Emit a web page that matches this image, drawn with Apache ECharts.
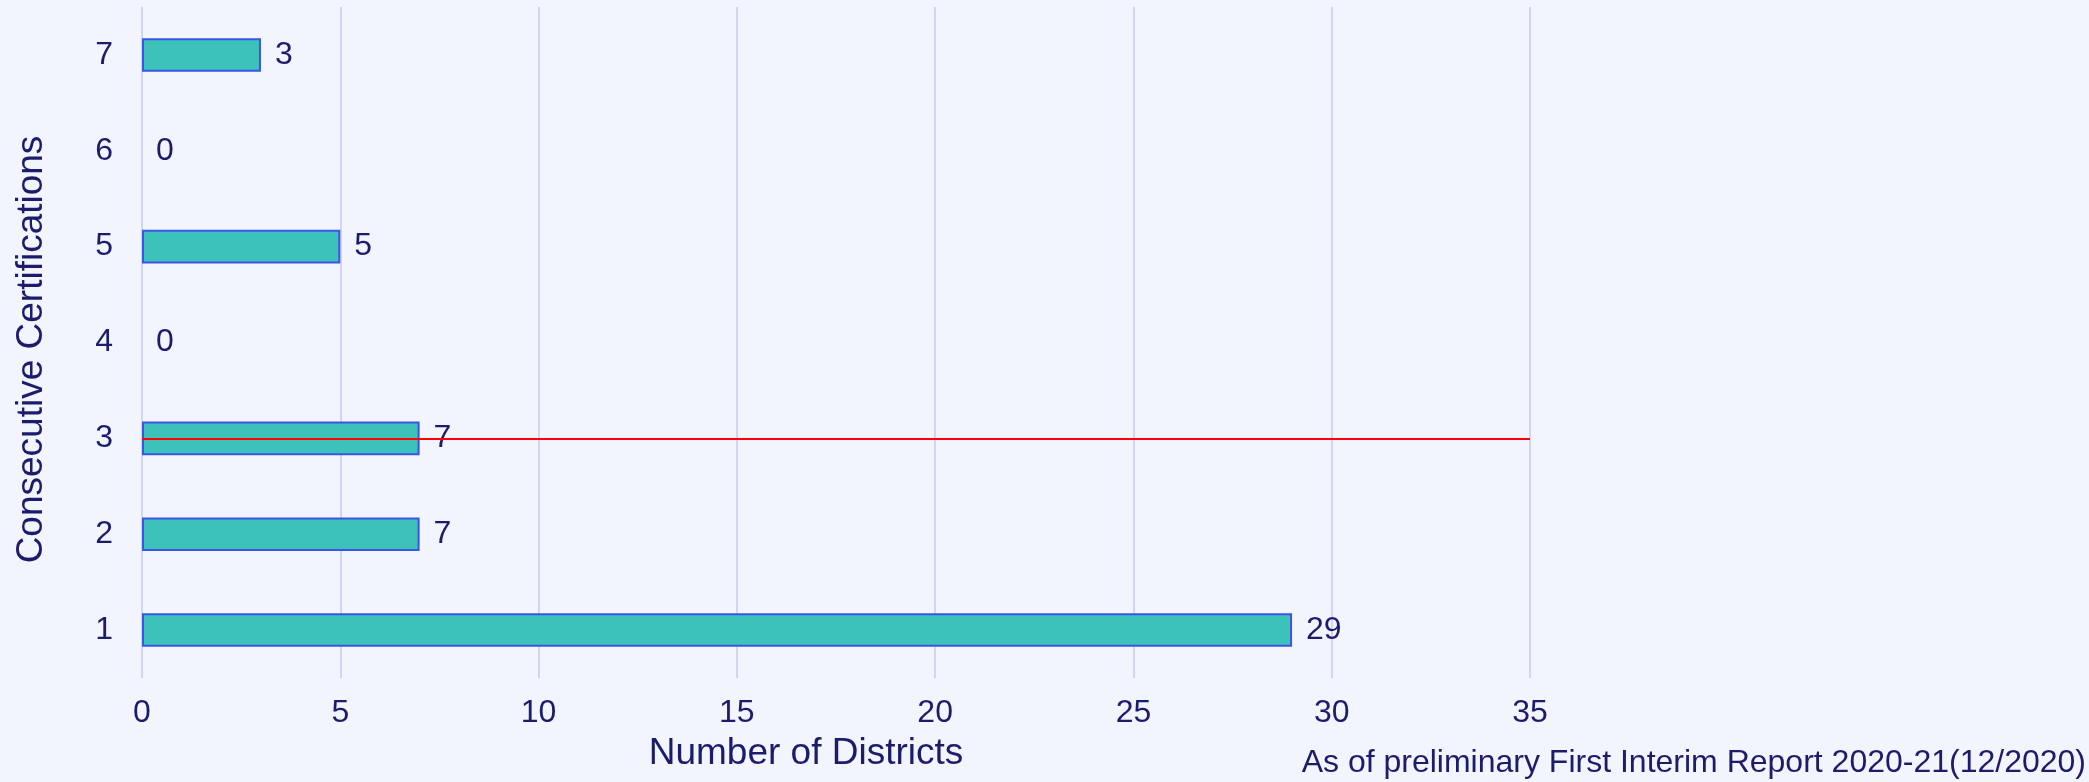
<!DOCTYPE html>
<html>
<head>
<meta charset="utf-8">
<script src="https://cdn.jsdelivr.net/npm/echarts@6/dist/echarts.min.js"></script>
<style>
  html, body { margin: 0; padding: 0; background: #f2f4fe; }
  #chart { width: 2089px; height: 782px; }
</style>
</head>
<body>
<div id="chart"></div>
<script>
// data
const certifications = ["1", "2", "3", "4", "5", "6", "7"];
const districts = [29, 7, 7, 0, 5, 0, 3];
const thresholdCategory = "3";
const xTicks = { min: 0, max: 35, interval: 5 };
const note = "As of preliminary First Interim Report 2020-21(12/2020)";

const textColor = "#1c1c6b";
const font = "Liberation Sans, Arial, sans-serif";

const chart = echarts.init(document.getElementById("chart"));

// empty bars get no outline (the reference shows nothing for 0)
const barData = districts.map(v => (v === 0 ? { value: v, itemStyle: { borderWidth: 0 } } : v));

const option = {
  backgroundColor: "#f2f4fe",
  textStyle: { fontFamily: font, color: textColor },
  grid: { left: 142, right: 559, top: 7, bottom: 104 },
  xAxis: {
    type: "value",
    min: xTicks.min,
    max: xTicks.max,
    interval: xTicks.interval,
    name: "Number of Districts",
    nameLocation: "middle",
    nameGap: 57,
    nameTextStyle: { fontSize: 37, color: textColor, fontFamily: font, padding: [0, 60, 0, 0] },
    axisLine: { show: false },
    axisTick: { show: false },
    axisLabel: { fontSize: 32, color: textColor, fontFamily: font, margin: 19 },
    splitLine: { show: true, lineStyle: { color: "#d3d3f6", width: 2 } }
  },
  yAxis: {
    type: "category",
    data: certifications,
    name: "Consecutive Certifications",
    nameLocation: "middle",
    nameGap: 92,
    nameTextStyle: { fontSize: 37, color: textColor, fontFamily: font, padding: [0, 14, 0, 0] },
    axisLine: { show: false },
    axisTick: { show: false },
    axisLabel: { fontSize: 32, color: textColor, fontFamily: font, margin: 29 },
    splitLine: { show: false }
  },
  series: [
    {
      type: "bar",
      data: barData,
      barWidth: "35%",
      itemStyle: { color: "#3dc1bb", borderColor: "#3b55e6", borderWidth: 2 },
      label: {
        show: true,
        position: "right",
        distance: 14,
        fontSize: 32,
        color: textColor,
        fontFamily: font
      },
      markLine: {
        silent: true,
        symbol: "none",
        label: { show: false },
        lineStyle: { color: "#ff0000", width: 2, type: "solid" },
        data: [[
          { coord: [xTicks.min, thresholdCategory] },
          { coord: [xTicks.max, thresholdCategory] }
        ]]
      }
    }
  ],
  graphic: [
    {
      type: "text",
      right: 3,
      bottom: 3,
      style: { text: note, fontSize: 32, fill: textColor, fontFamily: font }
    }
  ]
};

chart.setOption(option);
</script>
</body>
</html>
